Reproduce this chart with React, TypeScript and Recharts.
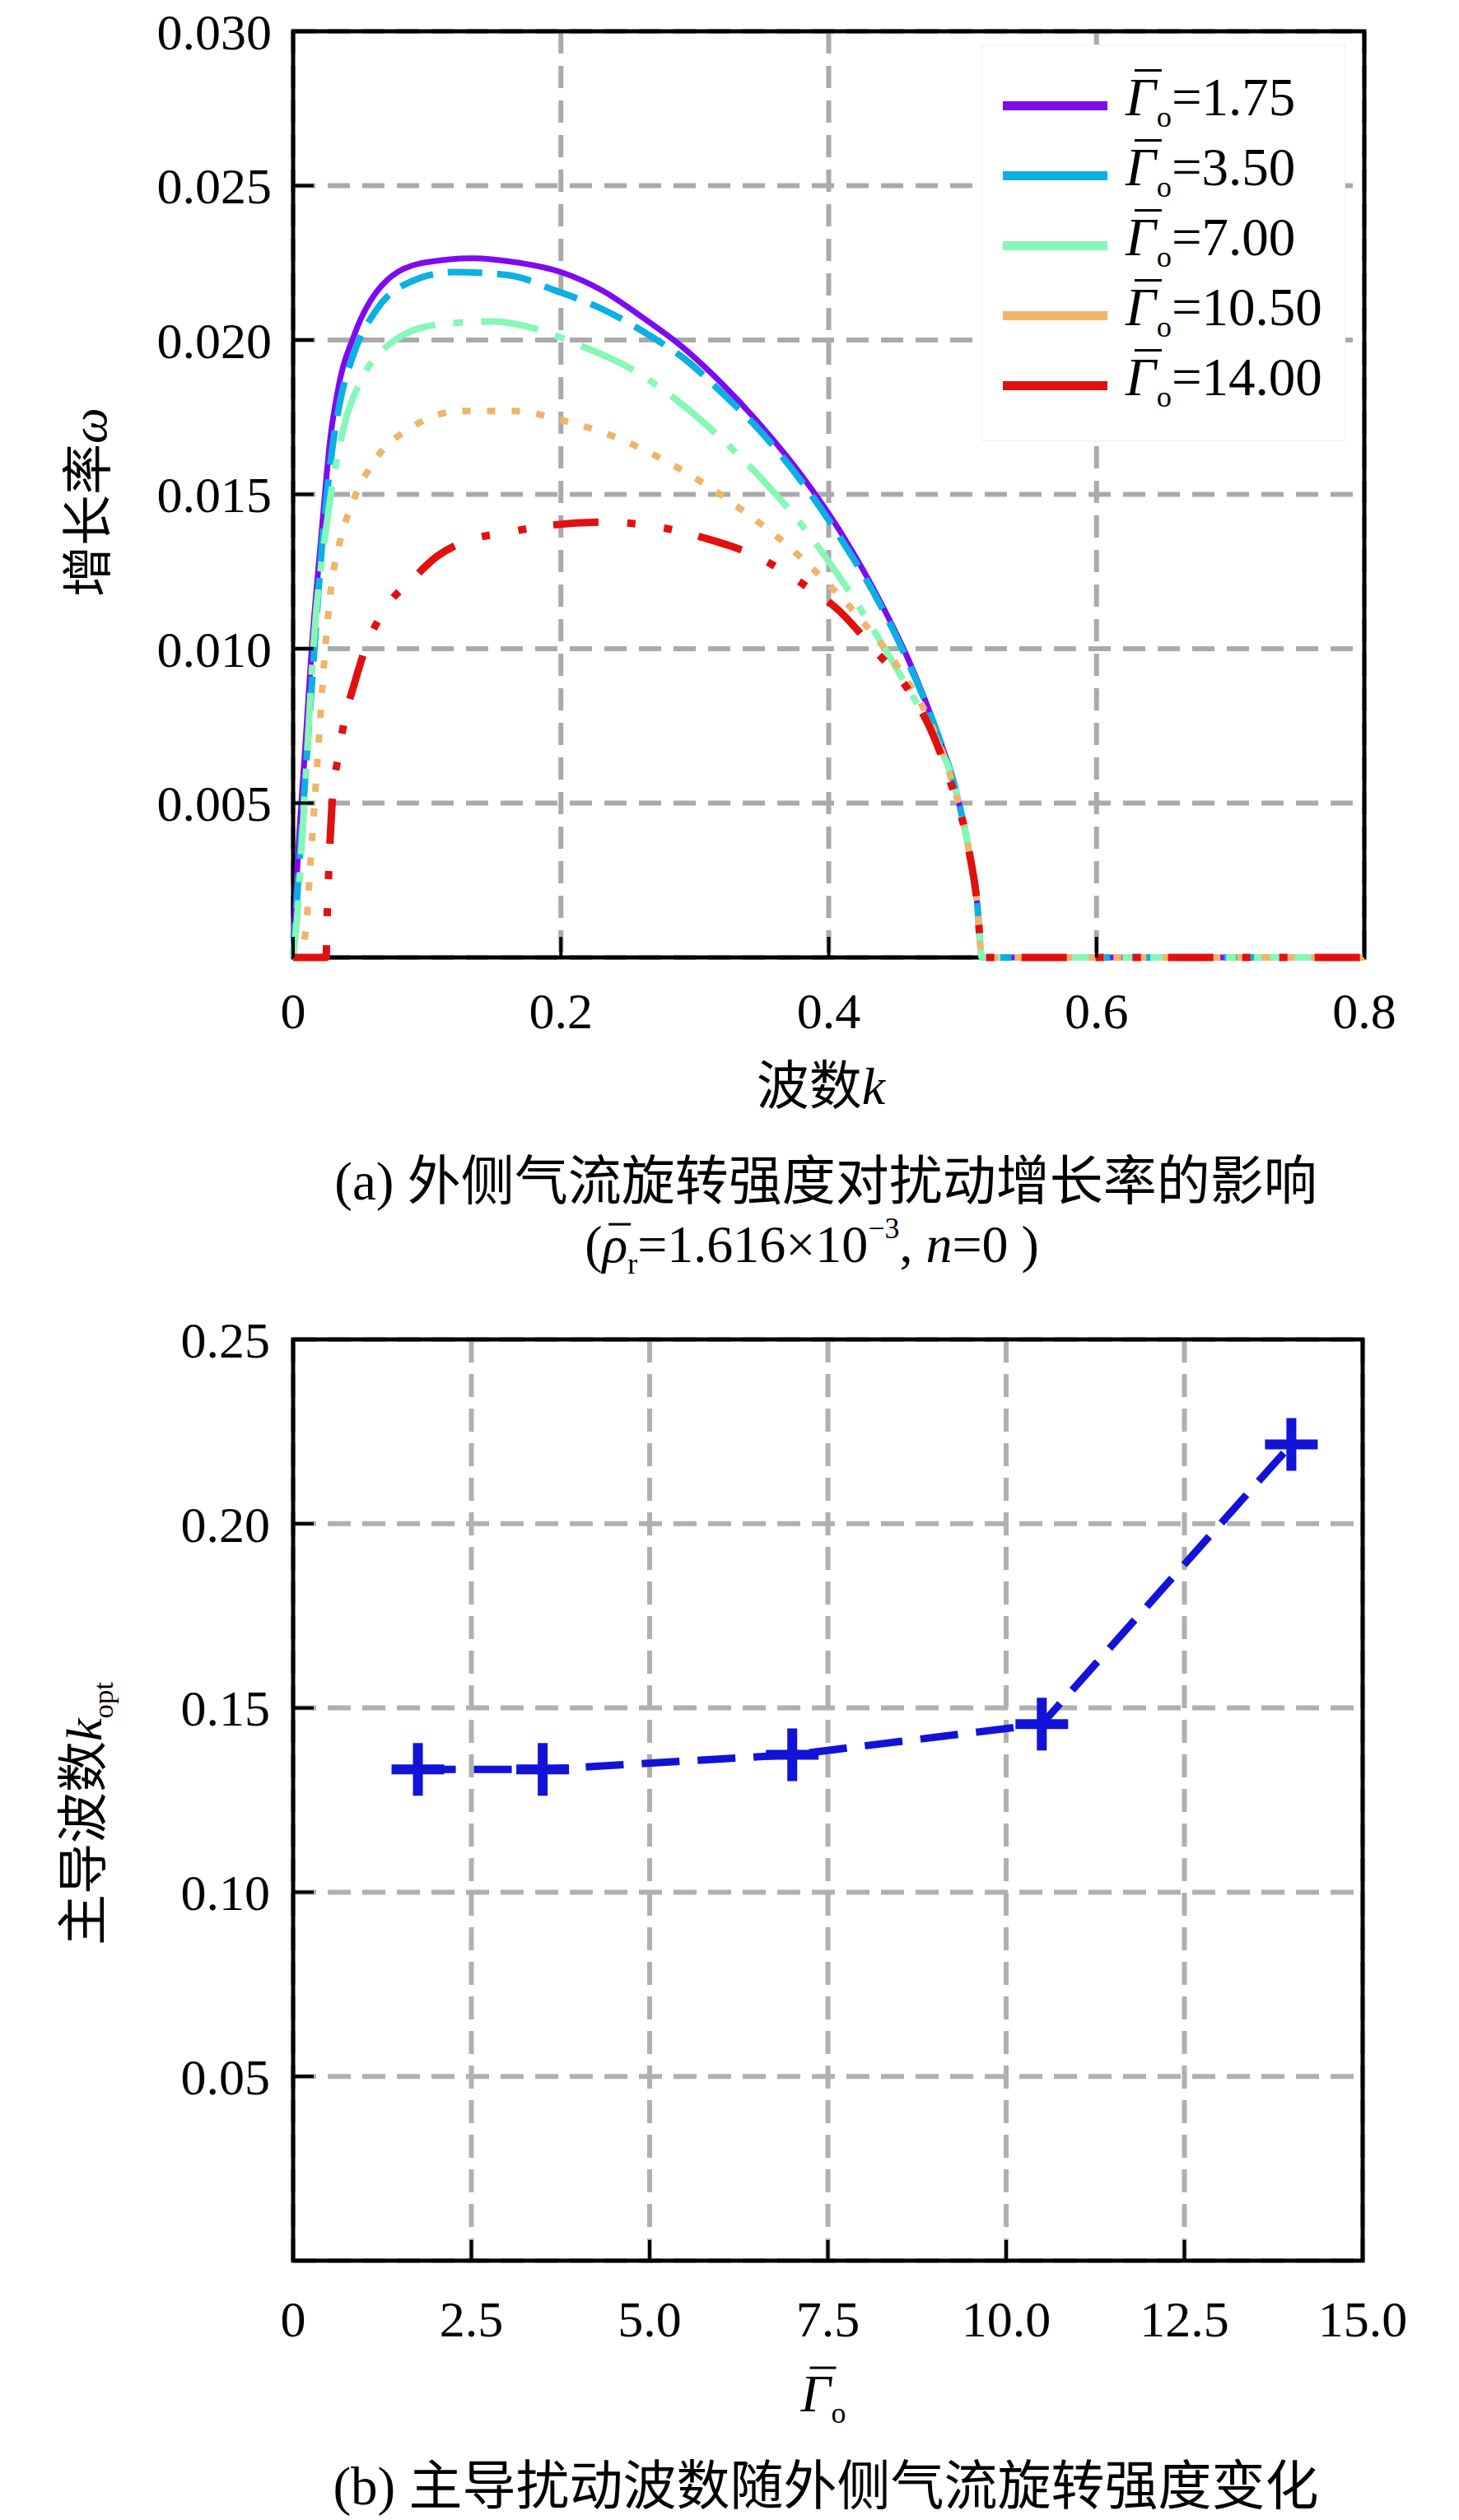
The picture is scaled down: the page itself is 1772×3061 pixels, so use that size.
import React from "react";
import { LineChart, Line, XAxis, YAxis, CartesianGrid, ReferenceArea, Legend } from "recharts";

const SERIF = "'Liberation Serif', 'Times New Roman', 'Noto Sans CJK SC', serif";

// ---------- (a) growth rate vs wave number ----------
const kTicks = [0, 0.2, 0.4, 0.6, 0.8];
const wTicks = [0.005, 0.01, 0.015, 0.02, 0.025, 0.03];

const k175 = [0, 0.003, 0.009, 0.014, 0.0205, 0.028, 0.034, 0.046, 0.067, 0.097, 0.134, 0.169, 0.2, 0.231, 0.262, 0.29, 0.32, 0.35, 0.38, 0.41, 0.44, 0.46, 0.48, 0.495, 0.505, 0.511, 0.5144, 0.8];
const w175 = [0, 0.0028, 0.0068, 0.0101, 0.0134, 0.0169, 0.0185, 0.0202, 0.0218, 0.0225, 0.02265, 0.0225, 0.0222, 0.0216, 0.0207, 0.0198, 0.0186, 0.0172, 0.0156, 0.0137, 0.0114, 0.0096, 0.0074, 0.0054, 0.0034, 0.0017, 0, 0];

const k350 = [0, 0.004, 0.0092, 0.0154, 0.0215, 0.0287, 0.036, 0.044, 0.0626, 0.079, 0.12, 0.161, 0.196, 0.231, 0.268, 0.292, 0.32, 0.35, 0.38, 0.41, 0.44, 0.46, 0.48, 0.495, 0.505, 0.511, 0.5144, 0.8];
const w350 = [0, 0.0026, 0.0059, 0.0097, 0.0133, 0.0163, 0.0182, 0.0194, 0.021, 0.0217, 0.0222, 0.0221, 0.0216, 0.021, 0.0201, 0.0194, 0.0183, 0.017, 0.0154, 0.0135, 0.0113, 0.0095, 0.0074, 0.0054, 0.0034, 0.0017, 0, 0];

const k700 = [0, 0.002, 0.009, 0.0154, 0.0256, 0.038, 0.052, 0.073, 0.108, 0.149, 0.186, 0.21, 0.251, 0.288, 0.32, 0.35, 0.38, 0.41, 0.435, 0.458, 0.48, 0.495, 0.505, 0.511, 0.5144, 0.8];
const w700 = [0, 0.0008, 0.0055, 0.0102, 0.0142, 0.0172, 0.0188, 0.0199, 0.0205, 0.0206, 0.0203, 0.0199, 0.0191, 0.018, 0.0168, 0.0155, 0.014, 0.0122, 0.0105, 0.0088, 0.0071, 0.0054, 0.0034, 0.0017, 0, 0];

const k1050 = [0, 0.004, 0.0092, 0.0133, 0.0185, 0.0236, 0.0287, 0.034, 0.044, 0.061, 0.0896, 0.125, 0.164, 0.201, 0.238, 0.273, 0.305, 0.335, 0.365, 0.395, 0.425, 0.455, 0.475, 0.49, 0.505, 0.511, 0.5144, 0.8];
const w1050 = [0, 0, 0.0008, 0.0033, 0.0066, 0.0098, 0.0121, 0.0133, 0.0147, 0.0161, 0.0172, 0.0177, 0.0177, 0.0174, 0.0169, 0.0162, 0.0154, 0.0145, 0.0135, 0.0123, 0.0109, 0.0092, 0.0077, 0.006, 0.0034, 0.0017, 0, 0];

const k1400 = [0, 0.0246, 0.0256, 0.0267, 0.0287, 0.034, 0.039, 0.046, 0.0523, 0.0687, 0.088, 0.1077, 0.124, 0.164, 0.192, 0.235, 0.278, 0.306, 0.3457, 0.384, 0.406, 0.4335, 0.462, 0.476, 0.49, 0.505, 0.511, 0.5144, 0.8];
const w1400 = [0, 0, 0.0016, 0.0029, 0.0047, 0.0066, 0.0078, 0.0089, 0.0098, 0.0113, 0.0122, 0.013, 0.0134, 0.0138, 0.014, 0.0141, 0.0139, 0.0136, 0.013, 0.012, 0.0113, 0.01, 0.0085, 0.0074, 0.0058, 0.0034, 0.0017, 0, 0];

const gammaLabels = ["1.75", "3.50", "7.00", "10.50", "14.00"];

// ---------- (b) dominant wave number ----------
const gammaTicks = [0, 2.5, 5, 7.5, 10, 12.5, 15];
const kOptTicks = [0.05, 0.1, 0.15, 0.2, 0.25];
const gammaO = [1.75, 3.5, 7, 10.5, 14];
const kOpt = [0.1333, 0.1333, 0.1373, 0.1456, 0.2215];

// styles
const colors = ["#7f0af0", "#0cb0e2", "#86f7b6", "#f0b46a", "#e2100e"];
const dashes = [undefined, "42 18", "70 22 12 22", "10 20", "55 35 10 35 10 33"];
const widths = [7, 8, 8, 8, 9];
const BLUE = "#1212d8";

const zip = (ks: number[], ws: number[]) => ks.map((k, i) => ({ k, w: ws[i] }));
const seriesA = [
  zip(k175, w175),
  zip(k350, w350),
  zip(k700, w700),
  zip(k1050, w1050),
  zip(k1400, w1400),
];
const dataB = gammaO.map((g, i) => ({ g, k: kOpt[i] }));

const fmtX = (v: number) => (v === 0 ? "0" : v.toFixed(1));

const LeftTick = (props: any) => {
  const { x, y, payload, gap, digits } = props;
  return (
    <g>
      <line x1={x + gap} x2={x + gap + 25} y1={y} y2={y} stroke="#000" strokeWidth={4} />
      <text x={x} y={y} dy="0.35em" textAnchor="end" fontSize={62} fontFamily={SERIF} fill="#000">
        {payload.value.toFixed(digits)}
      </text>
    </g>
  );
};

const BottomTick = (props: any) => {
  const { x, y, payload, base } = props;
  return (
    <g>
      <line x1={x} x2={x} y1={y} y2={y - 25} stroke="#000" strokeWidth={4} />
      <text x={x} y={y + base} textAnchor="middle" fontSize={62} fontFamily={SERIF} fill="#000">
        {fmtX(payload.value)}
      </text>
    </g>
  );
};

const BarGamma = () => (
  <span style={{ position: "relative", display: "inline-block", fontStyle: "italic", lineHeight: 1 }}>
    Γ
    <span style={{ position: "absolute", left: "0.17em", width: "0.5em", top: "-0.02em", borderTop: "0.05em solid #000" }} />
  </span>
);

const SubO = () => (
  <span style={{ fontSize: "0.56em", position: "relative", top: "0.4em", marginLeft: "0.02em" }}>o</span>
);

const LegendA = (props: any) => {
  const items = [...(props.payload || [])].sort(
    (a: any, b: any) => gammaLabels.indexOf(a.value) - gammaLabels.indexOf(b.value)
  );
  return (
    <div
      style={{
        width: 442,
        height: 482,
        boxSizing: "border-box",
        background: "#fff",
        border: "1px solid #f0f0f0",
        position: "relative",
        fontFamily: SERIF,
        color: "#000",
      }}
    >
      {items.map((p: any, i: number) => (
        <div
          key={p.value}
          style={{ position: "absolute", left: 25, top: 73 + i * 85 - 40, height: 80, display: "flex", alignItems: "center" }}
        >
          <div style={{ width: 127, height: 11, background: p.color }} />
          <span style={{ marginLeft: 22, fontSize: 65, lineHeight: 1, whiteSpace: "nowrap", position: "relative", top: -10 }}>
            <BarGamma />
            <SubO />={p.value}
          </span>
        </div>
      ))}
    </div>
  );
};

const Centered = ({ x, y, rotate, size, children }: any) => (
  <div
    style={{
      position: "absolute",
      left: x,
      top: y,
      transform: `translate(-50%, -50%)${rotate ? " rotate(-90deg)" : ""}`,
      whiteSpace: "nowrap",
      fontSize: size,
      lineHeight: 1.2,
      fontFamily: SERIF,
      color: "#000",
    }}
  >
    {children}
  </div>
);

export default function App() {
  return (
    <div style={{ position: "absolute", left: 0, top: 0, width: 1772, height: 3061, background: "#fff", fontFamily: SERIF }}>
      <div style={{ position: "absolute", left: 0, top: 0 }}>
        <LineChart width={1772} height={1380} margin={{ top: 38, right: 115, bottom: 0, left: 0 }}>
          <CartesianGrid stroke="#aaaaaa" strokeWidth={6} strokeDasharray="27 15" />
          <XAxis
            type="number"
            dataKey="k"
            domain={[0, 0.8]}
            ticks={kTicks}
            interval={0}
            height={217}
            axisLine={false}
            tickLine={false}
            tickSize={0}
            tickMargin={0}
            tick={<BottomTick base={86} />}
          />
          <YAxis
            type="number"
            domain={[0, 0.03]}
            ticks={wTicks}
            interval={0}
            width={356}
            axisLine={false}
            tickLine={false}
            tickSize={0}
            tickMargin={26}
            tick={<LeftTick gap={26} digits={3} />}
          />
          {seriesA.map((d, i) => (
            <Line
              key={gammaLabels[i]}
              name={gammaLabels[i]}
              data={d}
              dataKey="w"
              type="monotone"
              stroke={colors[i]}
              strokeWidth={widths[i]}
              strokeDasharray={dashes[i]}
              dot={false}
              activeDot={false}
              isAnimationActive={false}
            />
          ))}
          <ReferenceArea x1={0} x2={0.8} y1={0} y2={0.03} fill="none" stroke="#000" strokeWidth={5} />
          <Legend
            layout="vertical"
            align="center"
            verticalAlign="middle"
            wrapperStyle={{ left: 1192, top: 54, width: 442, height: 482 }}
            content={<LegendA />}
          />
        </LineChart>
      </div>

      <Centered x={108} y={610} rotate size={62}>
        增长率<i>ω</i>
      </Centered>
      <Centered x={997} y={1320} size={64}>
        波数<i>k</i>
      </Centered>
      <Centered x={1003} y={1435} size={65}>
        (a) 外侧气流旋转强度对扰动增长率的影响
      </Centered>
      <Centered x={986} y={1512} size={64}>
        (
        <span style={{ position: "relative", display: "inline-block", fontStyle: "italic", lineHeight: 1 }}>
          ρ
          <span style={{ position: "absolute", left: "0.12em", width: "0.42em", top: "0.1em", borderTop: "0.05em solid #000" }} />
        </span>
        <span style={{ fontSize: "0.56em", position: "relative", top: "0.4em" }}>r</span>
        =1.616×10
        <span style={{ fontSize: "0.56em", position: "relative", top: "-0.8em" }}>−3</span>, <i>n</i>=0 )
      </Centered>

      <div style={{ position: "absolute", left: 0, top: 1580 }}>
        <LineChart width={1772} height={1400} data={dataB} margin={{ top: 47, right: 117, bottom: 0, left: 0 }}>
          <CartesianGrid stroke="#b0b0b0" strokeWidth={6} strokeDasharray="28 14" />
          <XAxis
            type="number"
            dataKey="g"
            domain={[0, 15]}
            ticks={gammaTicks}
            interval={0}
            height={234}
            axisLine={false}
            tickLine={false}
            tickSize={0}
            tickMargin={0}
            tick={<BottomTick base={92} />}
          />
          <YAxis
            type="number"
            domain={[0, 0.25]}
            ticks={kOptTicks}
            interval={0}
            width={356}
            axisLine={false}
            tickLine={false}
            tickSize={0}
            tickMargin={28}
            tick={<LeftTick gap={28} digits={2} />}
          />
          <Line
            dataKey="k"
            type="linear"
            stroke={BLUE}
            strokeWidth={9}
            strokeDasharray="46 22"
            isAnimationActive={false}
            activeDot={false}
            dot={(p: any) => (
              <g key={`m${p.index}`}>
                <line x1={p.cx - 32} x2={p.cx + 32} y1={p.cy} y2={p.cy} stroke={BLUE} strokeWidth={12} />
                <line x1={p.cx} x2={p.cx} y1={p.cy - 32} y2={p.cy + 32} stroke={BLUE} strokeWidth={12} />
              </g>
            )}
          />
          <ReferenceArea x1={0} x2={15} y1={0} y2={0.25} fill="none" stroke="#000" strokeWidth={5} />
        </LineChart>
      </div>

      <Centered x={102} y={2203} rotate size={62}>
        主导波数<i>k</i>
        <span style={{ fontSize: "0.56em", position: "relative", top: "0.4em" }}>opt</span>
      </Centered>
      <Centered x={1000} y={2908} size={64}>
        <BarGamma />
        <SubO />
      </Centered>
      <Centered x={1003} y={3020} size={65}>
        (b) 主导扰动波数随外侧气流旋转强度变化
      </Centered>
    </div>
  );
}
